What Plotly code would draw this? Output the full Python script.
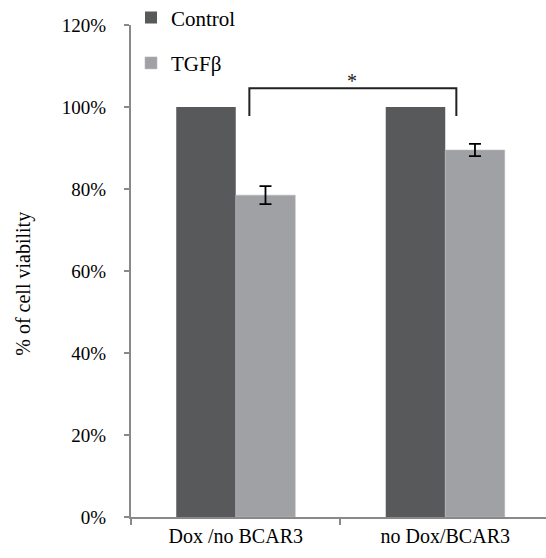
import plotly.graph_objects as go

# Data
categories = ["Dox /no BCAR3", "no Dox/BCAR3"]
control_values = [100.0, 100.0]
tgfb_values = [78.5, 89.5]
tgfb_errors = [2.2, 1.5]
y_ticks = [0, 20, 40, 60, 80, 100, 120]
y_tick_labels = ["0%", "20%", "40%", "60%", "80%", "100%", "120%"]

FONT = "Times New Roman"
AXIS_GRAY = "#898989"

fig = go.Figure()
fig.add_trace(go.Bar(
    name="Control", x=categories, y=control_values,
    marker=dict(color="#58595b", line=dict(width=0)),
    legendgroup="a",
))
fig.add_trace(go.Bar(
    name="TGFβ", x=categories, y=tgfb_values,
    marker=dict(color="#a0a1a4", line=dict(color="#b8b9bc", width=0.6)),
    error_y=dict(type="data", array=tgfb_errors, color="black",
                 thickness=1.8, width=6),
    legendgroup="b",
))

# Significance bracket between the two TGFβ bars
fig.add_shape(type="path",
              path="M 0.065,97.8 L 0.065,104.6 L 1.053,104.6 L 1.053,97.8",
              xref="x", yref="y", line=dict(color="#222222", width=2))
fig.add_annotation(x=0.555, y=106.4, xref="x", yref="y", text="*",
                   showarrow=False, font=dict(family=FONT, size=20, color="#222222"))

# Y-axis title, placed slightly below the plot's vertical centre
fig.add_annotation(x=-0.258, y=0.474, xref="paper", yref="paper",
                   text="% of cell viability", textangle=-90, showarrow=False,
                   xanchor="center", yanchor="middle",
                   font=dict(family=FONT, size=20, color="black"))

fig.update_layout(
    width=546, height=558,
    margin=dict(l=131, r=0, t=25, b=41, autoexpand=False),
    paper_bgcolor="white", plot_bgcolor="white",
    barmode="group", bargap=0.432, bargroupgap=0,
    font=dict(family=FONT, size=20, color="black"),
    showlegend=True,
    legend=dict(x=0.0, y=1.056, xanchor="left", yanchor="top",
                font=dict(family=FONT, size=21, color="black"),
                bgcolor="rgba(0,0,0,0)", traceorder="grouped",
                tracegroupgap=15, itemwidth=30),
    xaxis=dict(
        type="category", range=[-0.5, 1.481],
        showline=True, linecolor=AXIS_GRAY, linewidth=2,
        ticks="outside", tickson="boundaries", ticklen=6,
        tickcolor=AXIS_GRAY, tickwidth=1.5,
        tickfont=dict(family=FONT, size=20, color="black"),
        showgrid=False, zeroline=False,
    ),
    yaxis=dict(
        range=[0, 120], tickvals=y_ticks, ticktext=y_tick_labels,
        showline=True, linecolor=AXIS_GRAY, linewidth=2,
        ticks="outside", ticklen=5, tickcolor=AXIS_GRAY, tickwidth=1.5,
        tickfont=dict(family=FONT, size=19, color="black"),
        showgrid=False, zeroline=False, ticklabelstandoff=14,
    ),
)

fig.write_html("out.html")
